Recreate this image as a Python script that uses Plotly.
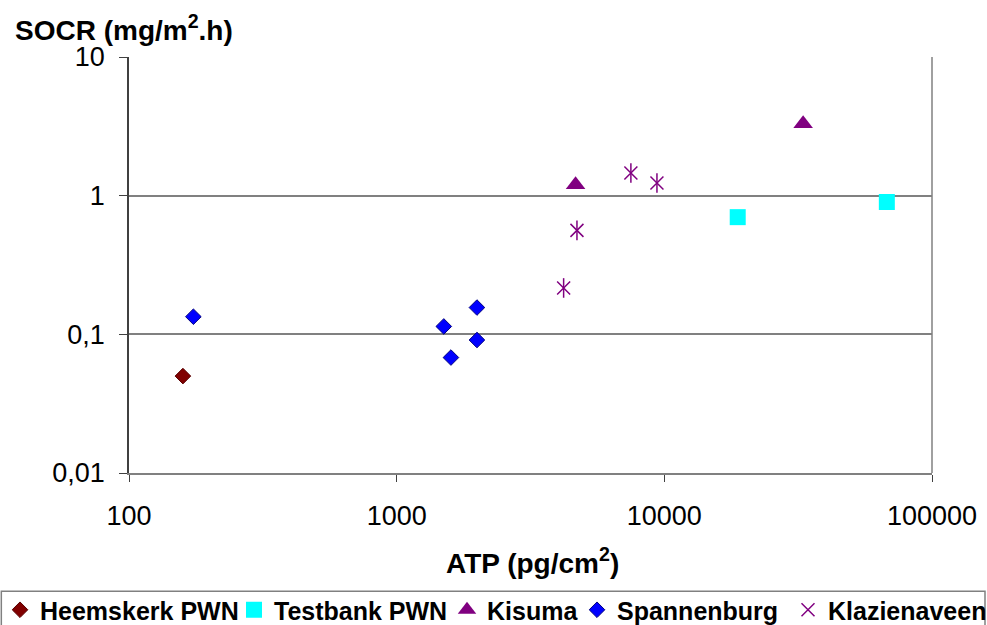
import plotly.graph_objects as go

# Data (ATP pg/cm2, SOCR mg/m2.h)
heemskerk_x = [159]
heemskerk_y = [0.050]
testbank_x = [18800, 67800]
testbank_y = [0.70, 0.90]
kisuma_x = [4660, 33000]
kisuma_y = [1.20, 3.30]
spannenburg_x = [174, 1500, 1595, 1995, 1995]
spannenburg_y = [0.134, 0.114, 0.068, 0.156, 0.091]
klazienaveen_x = [4205, 4716, 7500, 9385]
klazienaveen_y = [0.216, 0.562, 1.457, 1.234]

x_ticks = [100, 1000, 10000, 100000]
x_ticktext = ["100", "1000", "10000", "100000"]
y_ticks = [0.01, 0.1, 1, 10]
y_ticktext = ["0,01", "0,1", "1", "10"]

FONT = "Arial, Liberation Sans, sans-serif"

fig = go.Figure()
fig.add_trace(go.Scatter(x=heemskerk_x, y=heemskerk_y, mode="markers", name="Heemskerk PWN",
                         legend="legend",
                         marker=dict(symbol="diamond", size=12, color="#800000",
                                     line=dict(color="#5a0000", width=1))))
fig.add_trace(go.Scatter(x=testbank_x, y=testbank_y, mode="markers", name="Testbank PWN",
                         legend="legend2",
                         marker=dict(symbol="square", size=16, color="#00FFFF", line=dict(width=0))))
fig.add_trace(go.Scatter(x=kisuma_x, y=kisuma_y, mode="markers", name="Kisuma",
                         legend="legend3",
                         marker=dict(symbol="triangle-up", size=17, color="#800080", line=dict(width=0))))
fig.add_trace(go.Scatter(x=spannenburg_x, y=spannenburg_y, mode="markers", name="Spannenburg",
                         legend="legend4",
                         marker=dict(symbol="diamond", size=12, color="#0000FF",
                                     line=dict(color="#000080", width=1))))
fig.add_trace(go.Scatter(x=klazienaveen_x, y=klazienaveen_y, mode="markers", name="Klazienaveen",
                         legend="legend5",
                         marker=dict(symbol="x-thin-open", size=13, color="#800080",
                                     line=dict(color="#800080", width=1.5))))
fig.add_trace(go.Scatter(x=klazienaveen_x, y=klazienaveen_y, mode="markers", showlegend=False,
                         hoverinfo="skip",
                         marker=dict(symbol="line-ns-open", size=14, color="#800080",
                                     line=dict(color="#800080", width=1.5))))

fig.update_xaxes(type="log", range=[2, 5], tickvals=x_ticks, ticktext=x_ticktext,
                 showgrid=False, showline=True, linecolor="#808080", linewidth=1.5,
                 ticks="outside", ticklen=7, tickcolor="#404040",
                 tickfont=dict(family=FONT, size=27, color="black"),
                 ticklabelstandoff=11, zeroline=False, automargin=False)
fig.update_yaxes(type="log", range=[-2, 1], tickvals=y_ticks, ticktext=y_ticktext,
                 showgrid=True, gridcolor="#808080", gridwidth=1.5,
                 showline=True, linecolor="#404040", linewidth=1.5,
                 ticks="outside", ticklen=8, tickcolor="#404040",
                 tickfont=dict(family=FONT, size=27, color="black"),
                 ticklabelstandoff=9, zeroline=False, automargin=False)

# right border of plot area
fig.add_shape(type="line", xref="paper", yref="paper", x0=1, x1=1, y0=0, y1=1,
              line=dict(color="#808080", width=1.5))
# legend box
fig.add_shape(type="rect", xref="paper", yref="paper", x0=-0.159, x1=1.066, y0=-0.2845, y1=-0.40,
              line=dict(color="#808080", width=1.5), fillcolor="rgba(0,0,0,0)")

fig.add_annotation(text="<b>SOCR (mg/m<sup>2</sup>.h)</b>", xref="paper", yref="paper",
                   x=-0.1445, y=1.069, xanchor="left", yanchor="middle", showarrow=False,
                   font=dict(family=FONT, size=28, color="black"))
fig.add_annotation(text="<b>ATP (pg/cm<sup>2</sup>)</b>", xref="paper", yref="paper",
                   x=0.502, y=-0.212, xanchor="center", yanchor="middle", showarrow=False,
                   font=dict(family=FONT, size=28, color="black"))

def legend_at(px):
    return dict(orientation="h", xref="container", yref="container",
                x=px / 987, xanchor="left", y=1 - 587 / 625, yanchor="top",
                font=dict(family=FONT, size=25, color="black", weight="bold"),
                itemwidth=30, bgcolor="rgba(0,0,0,0)", borderwidth=0)

fig.update_layout(
    width=987, height=625,
    margin=dict(l=129, r=55, t=57, b=151.5),
    plot_bgcolor="white", paper_bgcolor="white",
    showlegend=True,
    legend=legend_at(-10),
    legend2=legend_at(234),
    legend3=legend_at(447),
    legend4=legend_at(577),
    legend5=legend_at(788),
)

fig.write_html("out.html")
